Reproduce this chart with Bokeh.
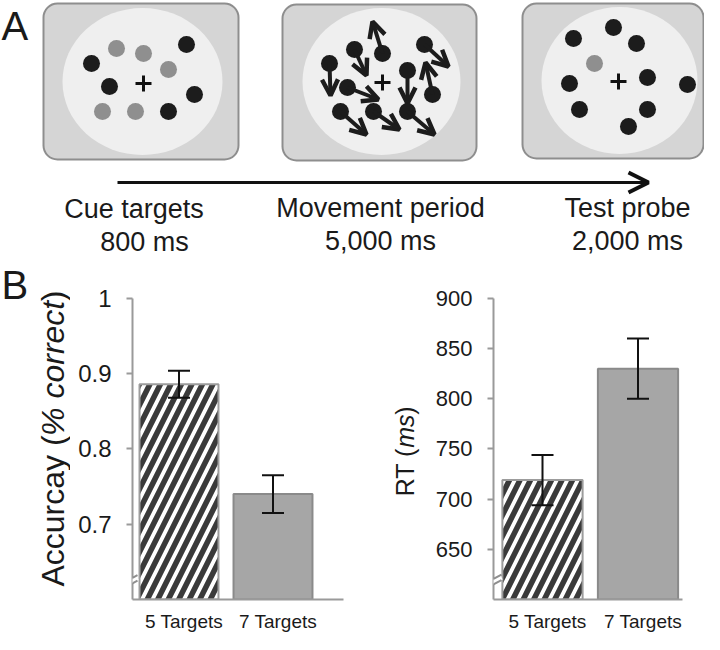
import math
from bokeh.plotting import figure
from bokeh.models import (ColumnDataSource, Range1d, Arrow, OpenHead,
                          Whisker, TeeHead, FixedTicker, CustomJSTickFormatter)
from bokeh.layouts import column, row
from bokeh.embed import file_html
from bokeh.resources import INLINE
from bokeh.core.properties import value

FONT = "Liberation Sans"
INK = "#1a1a1a"
MID = 0.3465  # em-box centre above the baseline (Liberation Sans)

# ---------------- Panel A data (schematic) ----------------
stage_names = ["Cue targets", "Movement period", "Test probe"]
stage_durations = ["800 ms", "5,000 ms", "2,000 ms"]

cue_x = [91, 116, 143, 186, 168, 109, 194, 102, 135, 168]
cue_y = [63, 48, 53, 44, 69, 86, 94, 111, 111, 111]
cue_is_target = [0, 1, 1, 0, 1, 0, 0, 1, 1, 0]

move_x = [329, 354, 382, 424, 347, 407, 432, 340, 373, 407]
move_y = [63, 49, 53, 44, 87, 70, 94, 111, 111, 111]
move_tip_x = [330, 366, 372, 448, 378, 407, 425, 366, 399, 434]
move_tip_y = [95, 75, 21, 66, 99, 103, 62, 134, 129, 134]

probe_x = [573, 613, 636, 594, 569, 647, 687, 579, 647, 628]
probe_y = [38, 27, 43, 63, 83, 77, 84, 109, 109, 126]
probe_is_target = [0, 0, 0, 1, 0, 0, 0, 0, 0, 0]

# ---------------- Panel B data ----------------
conditions = ["5 Targets", "7 Targets"]
acc_mean = [0.886, 0.740]
acc_err = [0.018, 0.025]
rt_mean = [719, 830]
rt_err = [25, 30]
acc_ticks = [0.7, 0.8, 0.9, 1.0]
rt_ticks = [650, 700, 750, 800, 850, 900]

TOP_H = 258
BOT_H = 376
AXIS_TOP = 298      # screen y of the top of the value axes
FRAME_BOT = 600     # screen y of the x axis line
BOT_BORDER = TOP_H + BOT_H - FRAME_BOT

# ============ top figure (panel A) ============
top = figure(width=704, height=TOP_H, x_range=Range1d(0, 704), y_range=Range1d(TOP_H, 0),
             toolbar_location=None, output_backend="svg", min_border=0,
             x_axis_location=None, y_axis_location=None, outline_line_color=None)
top.grid.visible = False

top.quad(left=[43, 282, 522], right=[238, 476, 703], top=[3, 4, 3], bottom=[159, 160, 158],
         border_radius=14, fill_color="#d5d5d5", line_color="#8e8e8e", line_width=2)
top.ellipse(x=[142, 381, 619], y=[81, 81, 80], width=[160, 158, 156], height=147,
            fill_color="#efefef", line_color=None)

dot_dark = "#1c1c1c"
dot_grey = "#8f8f8f"
top.scatter(cue_x, cue_y, size=17, line_color=None,
            fill_color=[dot_grey if t else dot_dark for t in cue_is_target])
top.scatter(probe_x, probe_y, size=17, line_color=None,
            fill_color=[dot_grey if t else dot_dark for t in probe_is_target])

msrc = ColumnDataSource(dict(x0=move_x, y0=move_y, x1=move_tip_x, y1=move_tip_y))
top.add_layout(Arrow(source=msrc, x_start="x0", y_start="y0", x_end="x1", y_end="y1",
                     line_width=4, line_color=dot_dark,
                     end=OpenHead(size=16, line_width=4.5, line_color=dot_dark)))
top.scatter(move_x, move_y, size=17, line_color=None, fill_color=dot_dark)

top.scatter([143, 382, 618], [83, 82, 81], marker="cross", size=16, line_width=3,
            line_color="#111111")

top.add_layout(Arrow(x_start=117, y_start=182, x_end=648, y_end=182, line_width=3,
                     line_color="#111111",
                     end=OpenHead(size=20, line_width=4, line_color="#111111")))

top.text(x=[133.5, 380, 627], y=[218 - MID * 27, 217 - MID * 27, 217 - MID * 27],
         text=stage_names, text_font=value(FONT), text_font_size="27px", text_align="center",
         text_baseline="middle", text_color=INK)
top.text(x=[144, 380, 627], y=[250.5 - MID * 27, 250 - MID * 27, 250 - MID * 27],
         text=stage_durations, text_font=value(FONT), text_font_size="27px",
         text_align="center", text_baseline="middle", text_color=INK)
top.text(x=[1], y=[39 - MID * 40], text=["A"], text_font=value(FONT), text_font_size="40px",
         text_baseline="middle", text_color=INK)


# ============ label strips (panel letter + y-axis titles) ============
def label_strip(x0, x1):
    p = figure(width=x1 - x0, height=BOT_H, x_range=Range1d(x0, x1),
               y_range=Range1d(-FRAME_BOT, -TOP_H),
               toolbar_location=None, output_backend="svg", min_border=0,
               min_border_bottom=BOT_BORDER,
               x_axis_location=None, y_axis_location=None, outline_line_color=None)
    p.grid.visible = False
    return p


def vertical_title(p, x, y_start, pieces, size):
    y = y_start
    for txt, style, w in pieces:
        p.text(x=[x], y=[-y], text=[txt], angle=math.pi / 2, text_font=value(FONT),
               text_font_size=f"{size}px", text_font_style=style, text_align="left",
               text_baseline="middle", text_color=INK)
        y -= w


labL = label_strip(0, 70)
labL.text(x=[1], y=[-(298 - MID * 40)], text=["B"], text_font=value(FONT),
          text_font_size="40px", text_baseline="middle", text_color=INK)
vertical_title(labL, 63.5 - MID * 32, 587,
               [("Accurcay (", "normal", 151.1), ("% correct", "italic", 135.1),
                (")", "normal", 10.7)], 32)

labR = label_strip(360, 425)
vertical_title(labR, 413 - MID * 25, 496.5,
               [("RT (", "normal", 48.6), ("ms", "italic", 33.3), (")", "normal", 8.3)], 25)


# ============ bar panels ============
def bar_panel(fig_l, fig_r, frame_l, frame_r, c1, c2, ylo, yhi, means, errs, ticks,
              tick_fmt, tick_size):
    ppx = c2 - c1
    ppy = (FRAME_BOT - AXIS_TOP) / (yhi - ylo)

    def X(px):
        return 1 + (px - c1) / ppx

    def Y(py):
        return ylo + (FRAME_BOT - py) / ppy

    p = figure(width=fig_r - fig_l, height=BOT_H, x_range=Range1d(X(frame_l), X(frame_r)),
               y_range=Range1d(ylo, Y(TOP_H)), toolbar_location=None, output_backend="svg",
               min_border_left=frame_l - fig_l, min_border_right=fig_r - frame_r,
               min_border_top=0, min_border_bottom=BOT_BORDER,
               outline_line_color=None)
    p.grid.visible = False
    ya = p.yaxis[0]
    ya.bounds = (ylo, yhi)
    ya.ticker = FixedTicker(ticks=ticks)
    ya.formatter = CustomJSTickFormatter(code=tick_fmt)
    ya.axis_line_color = "#9a9a9a"
    ya.axis_line_width = 2
    ya.major_tick_line_color = "#9a9a9a"
    ya.major_tick_line_width = 2
    ya.major_tick_out = 6
    ya.major_tick_in = 0
    ya.minor_tick_line_color = None
    ya.major_label_text_font = FONT
    ya.major_label_text_font_size = tick_size
    ya.major_label_text_color = INK
    ya.major_label_standoff = 15
    xa = p.xaxis[0]
    xa.ticker = FixedTicker(ticks=[1 + 5 / ppx, 2 + 5 / ppx])
    xa.formatter = CustomJSTickFormatter(args=dict(names=conditions),
                                         code="const i = Math.round(tick) - 1; return names[i] ?? '';")
    xa.axis_line_color = "#9a9a9a"
    xa.axis_line_width = 2
    xa.major_tick_out = 0
    xa.major_tick_in = 0
    xa.major_tick_line_color = None
    xa.minor_tick_line_color = None
    xa.major_label_standoff = 11
    xa.major_label_text_font = FONT
    xa.major_label_text_font_size = "19px"
    xa.major_label_text_color = INK

    src = ColumnDataSource(dict(
        x=[1, 2], top=means,
        upper=[m + e for m, e in zip(means, errs)],
        lower=[m - e for m, e in zip(means, errs)],
        fill=["white", "#a6a6a6"], hatch=["/", " "], line=["#9c9c9c", "#8a8a8a"]))
    p.vbar(x="x", top="top", bottom=ylo, width=0.84, source=src, fill_color="fill",
           line_color="line", line_width=2, hatch_pattern="hatch", hatch_color="#3a3a3a",
           hatch_weight=5.5, hatch_scale=21)
    p.add_layout(Whisker(source=src, base="x", upper="upper", lower="lower",
                         level="annotation", line_color="#111111", line_width=2,
                         upper_head=TeeHead(size=22, line_width=2, line_color="#111111"),
                         lower_head=TeeHead(size=22, line_width=2, line_color="#111111")))
    return p, X, Y


left, LX, LY = bar_panel(70, 360, 132, 343, 178.5, 272.5, 0.6, 1.0, acc_mean, acc_err,
                         acc_ticks, "return tick > 0.99 ? '1' : tick.toFixed(1);", "24px")
right, RX, RY = bar_panel(425, 704, 493, 682, 542, 637.5, 600, 900, rt_mean, rt_err,
                          rt_ticks, "return tick.toFixed(0);", "22px")


def axis_break(p, X, Y, xa, x1, y0, y1):
    p.add_layout(Arrow(x_start=X(xa), y_start=Y(y0 + 2.7), x_end=X(x1), y_end=Y(y1 + 2.7),
                       end=None, line_color="white", line_width=5))
    for d in (0, 5.5):
        p.add_layout(Arrow(x_start=X(xa), y_start=Y(y0 + d), x_end=X(x1), y_end=Y(y1 + d),
                           end=None, line_color="#8e8e8e", line_width=2))


axis_break(left, LX, LY, 118.5, 137, 585.5, 575.5)
axis_break(right, RX, RY, 481.5, 501, 585.5, 575)

layout = column(top, row(labL, left, labR, right))
open("out.html", "w").write(file_html(layout, INLINE))
